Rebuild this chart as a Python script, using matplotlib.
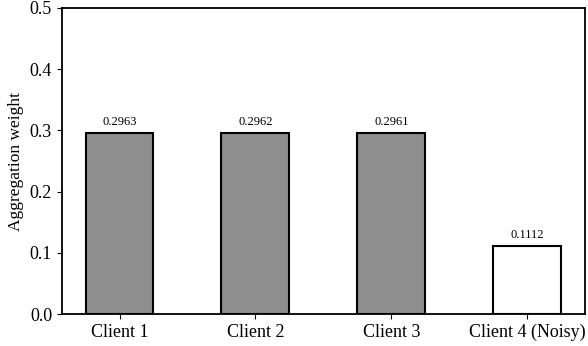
import matplotlib.pyplot as plt
import numpy as np

plt.rcParams['font.family'] = ['Liberation Serif', 'DejaVu Serif']

clients = ['Client 1', 'Client 2', 'Client 3', 'Client 4 (Noisy)']
weights = [0.2963, 0.2962, 0.2961, 0.1112]
colors = ['#8e8e8e', '#8e8e8e', '#8e8e8e', 'white']

fig = plt.figure(figsize=(5.88, 3.46), dpi=100)
ax = fig.add_axes([0.105, 0.092, 0.89, 0.885])

x = np.arange(len(clients))
bars = ax.bar(x, weights, width=0.5, color=colors, edgecolor='black', linewidth=1.5)
for b, w in zip(bars, weights):
    ax.text(b.get_x() + b.get_width() / 2, w + 0.008, '%.4f' % w,
            ha='center', va='bottom', fontsize=9)

ax.set_xticks(x)
ax.set_xticklabels(clients, fontsize=13)
ax.set_ylim(0, 0.5)
ax.set_yticks([0.0, 0.1, 0.2, 0.3, 0.4, 0.5])
ax.tick_params(axis='y', labelsize=13)
ax.set_ylabel('Aggregation weight', fontsize=12.5)
for s in ax.spines.values():
    s.set_linewidth(1.3)

fig.savefig('out.png', dpi=100)
